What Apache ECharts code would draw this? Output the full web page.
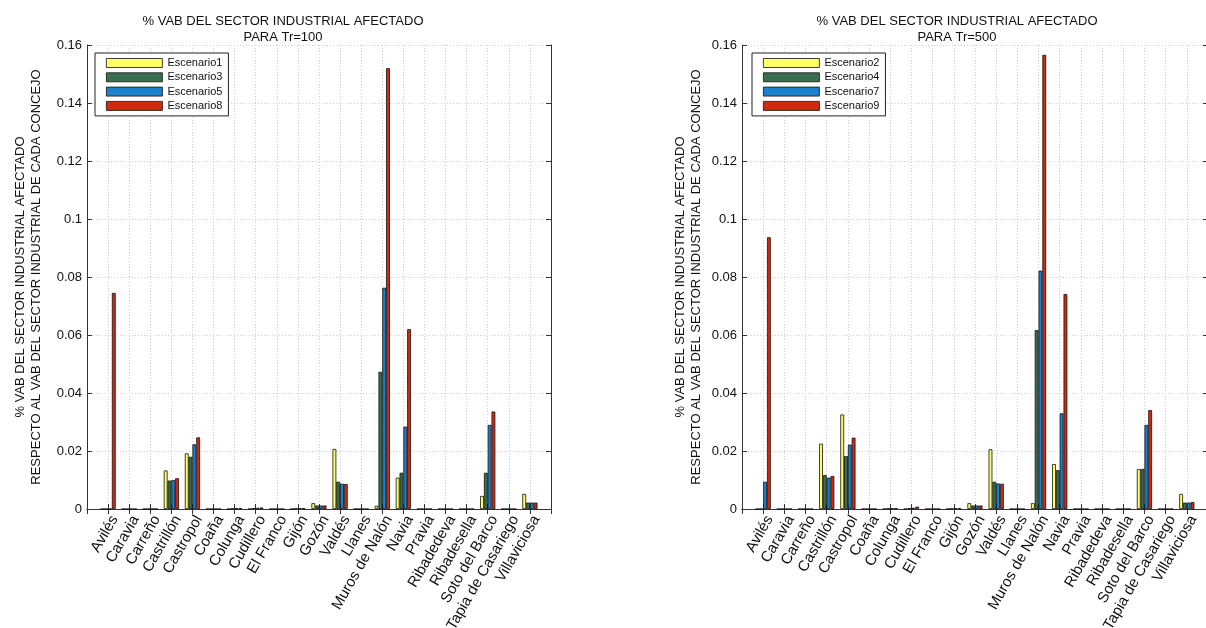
<!DOCTYPE html>
<html><head><meta charset="utf-8">
<script src="https://cdn.jsdelivr.net/npm/echarts@6/dist/echarts.min.js"></script>
<style>html,body{margin:0;padding:0;background:#fff;}#c{width:1206px;height:628px;}</style>
</head><body><div id="c"></div>
<script>
const categories = ['Avilés','Caravia','Carreño','Castrillón','Castropol','Coaña','Colunga','Cudillero','El Franco','Gijón','Gozón','Valdés','Llanes','Muros de Nalón','Navia','Pravia','Ribadedeva','Ribadesella','Soto del Barco','Tapia de Casariego','Villaviciosa'];
const yTicks = [0, 0.02, 0.04, 0.06, 0.08, 0.1, 0.12, 0.14, 0.16];

// Tr=100
const esc1 = [0,0,0,0.0133,0.0192,0,0,0,0,0,0.0020,0.0207,0,0.0011,0.0108,0,0,0,0.0045,0,0.0052];
const esc3 = [0,0,0,0.0098,0.0180,0,0.0002,0.0003,0,0.0002,0.0012,0.0094,0,0.0473,0.0125,0,0,0,0.0125,0,0.0022];
const esc5 = [0,0,0,0.0100,0.0223,0,0.0003,0.0004,0,0.0003,0.0012,0.0087,0,0.0763,0.0284,0,0,0,0.0290,0,0.0022];
const esc8 = [0.0745,0,0,0.0106,0.0247,0,0.0003,0.0005,0,0.0003,0.0012,0.0086,0,0.1520,0.0620,0,0,0,0.0336,0,0.0022];
// Tr=500
const esc2 = [0,0,0,0.0225,0.0326,0,0,0,0,0,0.0020,0.0206,0,0.0020,0.0155,0,0,0,0.0138,0,0.0052];
const esc4 = [0,0,0,0.0117,0.0182,0,0.0002,0.0003,0,0.0002,0.0012,0.0094,0,0.0617,0.0134,0,0,0,0.0138,0,0.0022];
const esc7 = [0.0094,0,0,0.0108,0.0222,0,0.0003,0.0004,0,0.0003,0.0012,0.0088,0,0.0822,0.0330,0,0,0,0.0290,0,0.0022];
const esc9 = [0.0937,0,0,0.0114,0.0246,0,0.0003,0.0008,0,0.0003,0.0012,0.0087,0,0.1566,0.0741,0,0,0,0.0341,0,0.0024];

const namesLeft = ['Escenario1','Escenario3','Escenario5','Escenario8'];
const namesRight = ['Escenario2','Escenario4','Escenario7','Escenario9'];
const colors = ['#ffff66','#3b6e50','#1b80cf','#d4290e'];

const FONT = 'Liberation Sans, Arial, sans-serif';
const cats = [''].concat(categories, ['']);
const pad = a => [null].concat(a, [null]);

function xAx(grid, pos, showLabels) {
  return {
    type: 'category', gridIndex: grid, position: pos, data: cats, boundaryGap: false,
    axisLine: {show: true, lineStyle: {color: '#333', width: 1}},
    axisTick: {show: true, inside: true, length: 5, lineStyle: {color: '#333'}, interval: 0},
    axisLabel: showLabels ? {show: true, rotate: 60, interval: 0, margin: 4, verticalAlign: 'top', fontSize: 15, color: '#111', fontFamily: FONT} : {show: false},
    splitLine: showLabels ? {show: true, interval: 0, lineStyle: {color: '#cfcfcf', type: [1, 2], width: 1}} : {show: false}
  };
}
function yAx(grid, pos, main, name, nameGap) {
  return {
    type: 'value', gridIndex: grid, position: pos, min: yTicks[0], max: yTicks[yTicks.length-1], interval: 0.02,
    name: main ? name : '', nameLocation: 'middle', nameRotate: 90, nameGap: nameGap,
    nameTextStyle: {fontSize: 13, color: '#111', fontFamily: FONT, lineHeight: 16},
    axisLine: {show: true, lineStyle: {color: '#333', width: 1}},
    axisTick: {show: true, inside: true, length: 5, lineStyle: {color: '#333'}},
    axisLabel: main ? {show: true, margin: 5, fontSize: 13, color: '#111', fontFamily: FONT} : {show: false},
    splitLine: main ? {show: true, lineStyle: {color: '#cfcfcf', type: [1, 2], width: 1}} : {show: false}
  };
}
const yName = '% VAB DEL SECTOR INDUSTRIAL AFECTADO\nRESPECTO AL VAB DEL SECTOR INDUSTRIAL DE CADA CONCEJO';

function mkSeries(names, datas, xi, yi) {
  return names.map((n, i) => ({
    name: n, type: 'bar', xAxisIndex: xi, yAxisIndex: yi, data: pad(datas[i]),
    barWidth: 3.8, barGap: '0%',
    itemStyle: {color: colors[i], borderColor: '#111', borderWidth: 0.8},
    emphasis: {disabled: true}
  }));
}
function mkLegend(names, left) {
  return {
    data: names, left: left, top: 53, orient: 'vertical', icon: 'rect',
    itemWidth: 56, itemHeight: 9, itemGap: 2.3,
    backgroundColor: '#fff', borderColor: '#222', borderWidth: 1, borderRadius: 0,
    padding: [4, 6, 4, 11],
    textStyle: {fontSize: 11, color: '#111', fontFamily: FONT, lineHeight: 12},
    itemStyle: {borderColor: '#111', borderWidth: 0.8}
  };
}

const chart = echarts.init(document.getElementById('c'));
chart.setOption({
  animation: false,
  backgroundColor: '#fff',
  color: colors,
  title: [
    {text: '% VAB DEL SECTOR INDUSTRIAL AFECTADO\nPARA Tr=100', left: 278, top: 8, textAlign: 'center',
     textStyle: {fontSize: 13, fontWeight: 'normal', color: '#111', fontFamily: FONT, lineHeight: 16}},
    {text: '% VAB DEL SECTOR INDUSTRIAL AFECTADO\nPARA Tr=500', left: 952, top: 8, textAlign: 'center',
     textStyle: {fontSize: 13, fontWeight: 'normal', color: '#111', fontFamily: FONT, lineHeight: 16}}
  ],
  legend: [mkLegend(namesLeft, 95), mkLegend(namesRight, 752)],
  grid: [
    {left: 87, top: 45, width: 464, height: 464, outerBoundsMode: 'none', containLabel: false},
    {left: 742, top: 45, width: 466, height: 464, outerBoundsMode: 'none', containLabel: false}
  ],
  xAxis: [xAx(0, 'bottom', true), xAx(0, 'top', false), xAx(1, 'bottom', true), xAx(1, 'top', false)],
  yAxis: [yAx(0, 'left', true, yName, 43), yAx(0, 'right', false), yAx(1, 'left', true, yName, 38), yAx(1, 'right', false)],
  series: mkSeries(namesLeft, [esc1, esc3, esc5, esc8], 0, 0).concat(mkSeries(namesRight, [esc2, esc4, esc7, esc9], 2, 2))
});
</script></body></html>
